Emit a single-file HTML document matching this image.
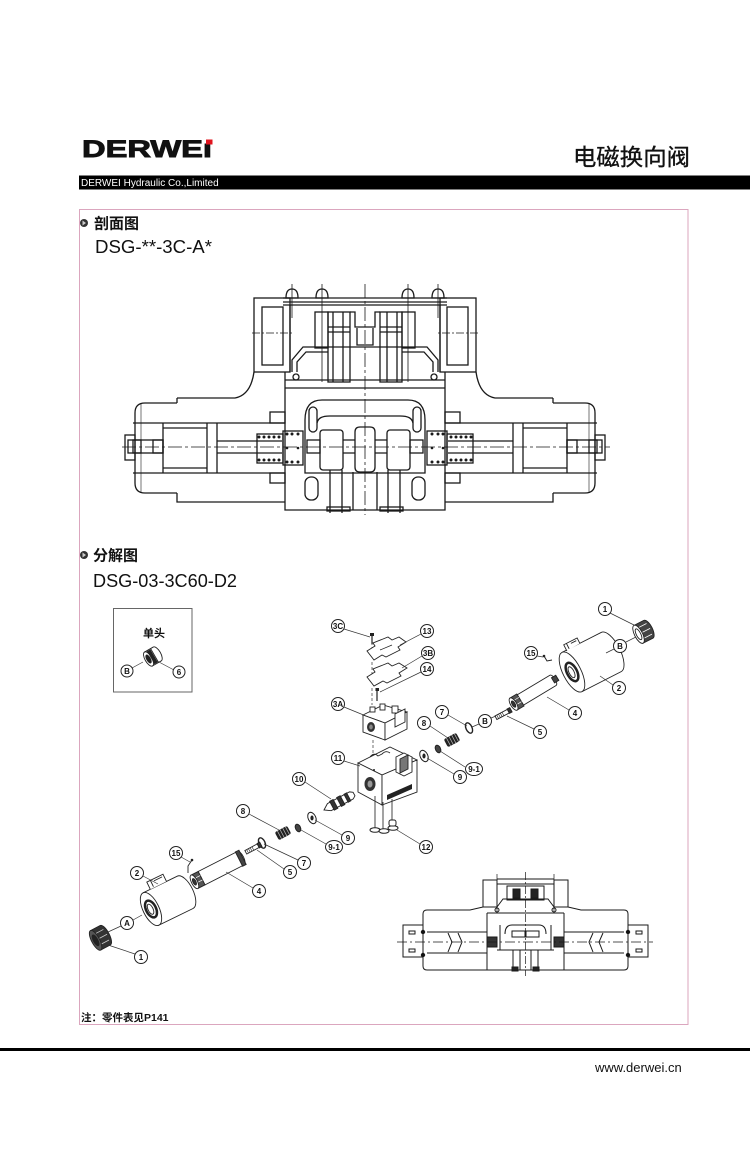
<!DOCTYPE html>
<html><head><meta charset="utf-8">
<style>
html,body{margin:0;padding:0;background:#fff;}
body{width:750px;height:1162px;overflow:hidden;position:relative;}
svg{position:absolute;left:0;top:0;}
.c circle,.c ellipse{fill:#fff;stroke:#222;stroke-width:1;}
.c text{font-family:"Liberation Sans",sans-serif;font-size:8px;font-weight:bold;text-anchor:middle;fill:#111;}
.ld{stroke:#333;stroke-width:0.7;fill:none;}
.ln{fill:none;stroke:#1a1a1a;stroke-width:1.3;}
.pt{stroke:#222;stroke-width:0.9;}
</style></head><body>
<svg width="750" height="1162" viewBox="0 0 750 1162" xmlns="http://www.w3.org/2000/svg" xmlns:xlink="http://www.w3.org/1999/xlink">
<defs>
<g id="secL" class="ln">
 <rect x="254" y="298" width="36" height="74"/>
 <rect x="262" y="307" width="21" height="58"/>
 <path d="M252,333 H292" stroke-width="0.7" stroke-dasharray="8 2 2 2"/>
 <path d="M283,298 H365 M283,302 H365 M283,305 H365"/>
 <path d="M286,298 Q286,289 292,289 Q298,289 298,298 Z"/>
 <path d="M316,298 Q316,289 322,289 Q328,289 328,298 Z"/>
 <path d="M292,284 V318 M322,284 V382" stroke-width="0.8"/>
 <path d="M290,305 V372 M285,372 V388"/>
 <rect x="315" y="312" width="13" height="36"/>
 <rect x="328" y="312" width="22" height="70"/>
 <path d="M333,312 V382 M343,312 V382 M328,327 H350 M328,332 H350"/>
 <path d="M350,312 H355 V327 H365 M357,328 V345 H365"/>
 <path d="M292,372 V360 L303,347 H365"/>
 <path d="M297,372 V362 L306,352 H328"/>
 <path d="M285,380 H365 M285,388 H365"/>
 <circle cx="296" cy="377" r="3"/>
 <path d="M254,372 C252,386 246,396 235,398 H177"/>
 <path d="M177,398 V403 M177,493 V502 H285"/>
 <path d="M177,403 H145 Q135,403 135,413 V483 Q135,493 145,493 H177"/>
 <path d="M141,403 V493"  stroke-width="0.6"/>
 <rect x="125" y="435" width="10" height="25"/>
 <path d="M133,423 H285 M133,473 H285"/>
 <path d="M163,423 V473 M207,423 V473 M217,423 V473 M163,428 H207 M163,468 H207"/>
 <path d="M217,441 H282 M217,453 H282"/>
 <rect x="128" y="440" width="35" height="13"/>
 <rect x="133" y="440" width="8" height="13"/>
 <rect x="153" y="440" width="10" height="13"/>
 <rect x="257" y="434" width="26" height="29"/>
 <rect x="283" y="431" width="20" height="34"/>
 <rect x="270" y="412" width="15" height="11"/>
 <rect x="270" y="473" width="15" height="10"/>
 <path d="M285,388 V510 H365"/>
 <path d="M305,420 V473 H365"/>
 <path d="M305,420 C305,405 312,400 322,400 H365"/>
 <path d="M317,423 C318,418 322,416 330,416 H365"/>
 <rect x="309" y="407" width="8" height="25" rx="4"/>
 <rect x="307" y="440" width="13" height="13"/>
 <rect x="320" y="430" width="23" height="40" rx="3"/>
 <path d="M343,440 H355 M343,453 H355"/>
 <path d="M365,427 H360 Q355,427 355,432 V467 Q355,472 360,472 H365"/>
 <rect x="305" y="477" width="13" height="23" rx="6"/>
 <path d="M330,470 V513 M342,470 V513 M353,472 V510"/>
 <rect x="327" y="507" width="23" height="4"/>
</g>
<g id="springDots" fill="#1a1a1a">
 <circle cx="259" cy="437" r="1.5"/><circle cx="264" cy="437" r="1.5"/><circle cx="269" cy="437" r="1.5"/><circle cx="274" cy="437" r="1.5"/><circle cx="279" cy="437" r="1.5"/>
 <circle cx="259" cy="460" r="1.5"/><circle cx="264" cy="460" r="1.5"/><circle cx="269" cy="460" r="1.5"/><circle cx="274" cy="460" r="1.5"/><circle cx="279" cy="460" r="1.5"/>
 <circle cx="287" cy="434" r="1.5"/><circle cx="292" cy="434" r="1.5"/><circle cx="298" cy="434" r="1.5"/>
 <circle cx="287" cy="462" r="1.5"/><circle cx="292" cy="462" r="1.5"/><circle cx="298" cy="462" r="1.5"/>
 <circle cx="287" cy="448" r="1.3"/><circle cx="298" cy="448" r="1.3"/>
</g>
<g id="smL" fill="none" stroke="#1a1a1a" stroke-width="1">
 <rect x="483" y="880" width="14" height="27"/>
 <path d="M497,879 H526 M497,884 H526"/>
 <path d="M526,886 H507 V900 H526"/>
 <rect x="513" y="889" width="7" height="9" fill="#222"/>
 <path d="M497,907 L503,899 H526"/>
 <path d="M497,874 V912" stroke-width="0.7"/>
 <circle cx="497" cy="910" r="2"/>
 <path d="M483,907 L470,910 H427 Q423,910 423,914 V966 Q423,970 427,970 H487"/>
 <path d="M487,913 V970 H526 M487,913 H526"/>
 <rect x="403" y="925" width="20" height="32"/>
 <rect x="409" y="931" width="6" height="3"/>
 <rect x="409" y="949" width="6" height="3"/>
 <path d="M427,932 H487 M427,953 H487"/>
 <path d="M448,933 L452,942 L448,952 M458,933 L462,942 L458,952"/>
 <rect x="487" y="937" width="10" height="10" fill="#333"/>
 <path d="M500,950 V925 M497,950 H526"/>
 <path d="M505,934 Q505,925 512,925 H526"/>
 <rect x="512" y="931" width="14" height="6"/>
 <path d="M513,950 V970 M520,950 V970"/>
 <rect x="512" y="967" width="6" height="4" fill="#222"/>
 <circle cx="423" cy="932" r="1.7" fill="#111"/>
 <circle cx="423" cy="955" r="1.7" fill="#111"/>
</g>
</defs>

<!-- HEADER -->
<text x="82" y="157" font-family="Liberation Sans, sans-serif" font-weight="bold" font-size="24" textLength="130" lengthAdjust="spacingAndGlyphs" fill="#111" stroke="#111" stroke-width="0.9">DERWEı</text>
<rect x="206" y="139.5" width="6.5" height="5" fill="#e0141e"/>
<text x="573" y="165" font-family="Liberation Sans, Noto Sans CJK SC, sans-serif" font-size="23" textLength="117" lengthAdjust="spacingAndGlyphs" fill="#111" stroke="#111" stroke-width="0.35">电磁换向阀</text>
<rect x="79" y="175.5" width="671" height="14" fill="#000"/>
<text x="81" y="186" font-family="Liberation Sans, sans-serif" font-size="10" fill="#fff">DERWEI Hydraulic Co.,Limited</text>

<!-- CONTENT BOX -->
<rect x="79.5" y="209.5" width="608.5" height="815" fill="none" stroke="#dba6be" stroke-width="1"/>

<circle cx="84" cy="223" r="4" fill="#333"/>
<path d="M82.5,220.5 L86,223 L82.5,225.5 Z" fill="#ccc"/>
<text x="94" y="228.5" font-family="Liberation Sans, Noto Sans CJK SC, sans-serif" font-weight="bold" font-size="15" fill="#111">剖面图</text>
<text x="95" y="253" font-family="Liberation Sans, sans-serif" font-size="18" textLength="117" lengthAdjust="spacingAndGlyphs" fill="#111">DSG-**-3C-A*</text>

<circle cx="84" cy="555" r="4" fill="#333"/>
<path d="M82.5,552.5 L86,555 L82.5,557.5 Z" fill="#ccc"/>
<text x="93" y="560.5" font-family="Liberation Sans, Noto Sans CJK SC, sans-serif" font-weight="bold" font-size="15" fill="#111">分解图</text>
<text x="93" y="587" font-family="Liberation Sans, sans-serif" font-size="18" textLength="144" lengthAdjust="spacingAndGlyphs" fill="#111">DSG-03-3C60-D2</text>

<!-- MAIN CROSS SECTION -->
<use xlink:href="#secL"/>
<use xlink:href="#secL" transform="translate(730,0) scale(-1,1)"/>
<use xlink:href="#springDots"/>
<use xlink:href="#springDots" transform="translate(730,0) scale(-1,1)"/>
<path d="M122,447 H610" stroke="#1a1a1a" stroke-width="0.8" stroke-dasharray="14 3 3 3" fill="none"/>
<path d="M365,284 V515" stroke="#1a1a1a" stroke-width="0.8" stroke-dasharray="14 3 3 3" fill="none"/>

<!-- INSET BOX -->
<rect x="113.5" y="608.5" width="78.5" height="83.5" fill="none" stroke="#666" stroke-width="1"/>
<text x="154" y="637" font-family="Liberation Sans, Noto Sans CJK SC, sans-serif" font-weight="bold" font-size="11" text-anchor="middle" fill="#111">单头</text>
<g transform="translate(152,657) rotate(-30)" class="pt">
 <path d="M-4,-8 H6 A3.5,8 0 0 1 6,8 H-4 Z" fill="#fff"/>
 <path d="M-1,-8 V8 M3,-8 V8" />
 <ellipse cx="-4" cy="0" rx="3.5" ry="8" fill="#fff"/>
 <ellipse cx="-4" cy="0" rx="1.8" ry="4.5" fill="#222"/>
 <path d="M-1,-7 H2 V7 H-1 Z" fill="#222"/>
</g>
<path class="ld" d="M132,668 L143,662 M174,670 L157,661"/>
<g class="c"><circle cx="127" cy="671" r="6"/><text x="127" y="674">B</text></g>
<g class="c"><circle cx="179" cy="672" r="6"/><text x="179" y="675">6</text></g>

<!-- EXPLODED VIEW PARTS -->
<g transform="translate(643,632) rotate(-27)" class="pt">
 <path d="M-5,-10 H6 A4,10 0 0 1 6,10 H-5 Z" fill="#444"/>
 <path d="M-5,-6 H7 M-5,0 H8 M-5,6 H7" stroke="#fff" stroke-width="0.8"/>
 <ellipse cx="-5" cy="0" rx="4" ry="10" fill="#fff"/>
 <ellipse cx="-5" cy="0" rx="2.2" ry="6" fill="#fff"/>
</g>
<g transform="translate(572,672) rotate(-27)" class="pt">
 <path d="M0,-22 H44 A9,22 0 0 1 44,22 H0 Z" fill="#fff"/>
 <ellipse cx="0" cy="0" rx="9" ry="22" fill="#fff"/>
 <ellipse cx="0" cy="0" rx="5" ry="10" fill="#fff" stroke-width="2.5"/>
 <ellipse cx="-0.5" cy="0" rx="2.5" ry="6" fill="#fff"/>
 <path d="M5,-21 V-28 H20 V-22" fill="#fff"/>
 <path d="M8,-28 V-22 M12,-26 H18" />
</g>
<g transform="translate(517,702) rotate(-31)" class="pt">
 <path d="M4,-6 H42 A2.5,6 0 0 1 42,6 H4 Z" fill="#fff"/>
 <rect x="42" y="-3" width="5" height="6" fill="#444"/>
 <path d="M-4,-7 H4 V7 H-4 Z" fill="#555"/>
 <path d="M-4,-3 H4 M-4,2 H4" stroke="#fff" stroke-width="0.7"/>
 <ellipse cx="-4" cy="0" rx="3" ry="7" fill="#fff"/>
 <ellipse cx="-4" cy="0" rx="1.5" ry="3.5" fill="#333"/>
</g>
<g transform="translate(503,714) rotate(-28)" class="pt">
 <rect x="-8" y="-2" width="14" height="4" fill="#fff"/>
 <path d="M-6,-2 V2 M-4,-2 V2 M-2,-2 V2 M0,-2 V2" stroke-width="0.6"/>
 <rect x="6" y="-2.5" width="3" height="5" fill="#333"/>
</g>
<ellipse cx="469" cy="728" rx="3" ry="5.5" transform="rotate(-25 469 728)" fill="none" stroke="#222" stroke-width="1.4"/>
<g transform="translate(452,740) rotate(-28)">
 <rect x="-7" y="-4.5" width="14" height="9" rx="2" fill="#222"/>
 <path d="M-4,-4.5 V4.5 M-1,-4.5 V4.5 M2,-4.5 V4.5 M5,-4.5 V4.5" stroke="#bbb" stroke-width="0.7"/>
</g>
<ellipse cx="438" cy="749" rx="2.5" ry="4" transform="rotate(-25 438 749)" fill="#444" stroke="#222"/>
<ellipse cx="424" cy="756" rx="3.8" ry="6" transform="rotate(-25 424 756)" fill="#fff" stroke="#222"/>
<ellipse cx="424" cy="756" rx="1.6" ry="2.5" fill="#222"/>
<path d="M544,656 L547,661 L552,660" fill="none" stroke="#222" stroke-width="1"/>
<circle cx="544" cy="656" r="1.3" fill="#222"/>

<path d="M372,637 V650 M372,662 V676 M372,688 V705" stroke="#333" stroke-width="0.7" stroke-dasharray="3 2" fill="none"/>
<rect x="370" y="633" width="4" height="3" fill="#222"/>
<path d="M372,636 V644" stroke="#222" stroke-width="1.2"/>
<path d="M367,651 L375,646 L373,643 L388,637 L392,640 L399,637 L406,642 L398,647 L400,650 L386,657 L382,655 L374,660 Z" fill="#fff" stroke="#222" stroke-width="0.9"/>
<path d="M380,650 L392,645" stroke="#222" stroke-width="0.7"/>
<path d="M367,677 L375,672 L373,669 L388,663 L392,666 L399,663 L407,668 L399,673 L401,676 L387,683 L383,681 L374,686 Z" fill="#fff" stroke="#222" stroke-width="0.9"/>
<rect x="375.5" y="688" width="3.5" height="3" fill="#222"/>
<path d="M377,691 V701" stroke="#222" stroke-width="1.2"/>
<g class="pt" fill="#fff">
 <path d="M363,715 L383,705 L407,712 L385,723 Z"/>
 <path d="M363,715 L385,723 L385,740 L363,732 Z"/>
 <path d="M385,723 L407,712 L407,729 L385,740 Z"/>
 <rect x="370" y="707" width="5" height="5"/>
 <rect x="380" y="704" width="5" height="6"/>
 <rect x="392" y="706" width="6" height="7"/>
 <path d="M395,714 L405,709 L405,722 L395,727 Z"/>
</g>
<ellipse cx="371" cy="727" rx="4" ry="5" fill="#333"/>
<ellipse cx="371" cy="727" rx="1.8" ry="2.5" fill="#888"/>
<path d="M373,740 V760" stroke="#333" stroke-width="0.7" stroke-dasharray="3 2"/>
<g class="pt" fill="#fff">
 <path d="M358,763 L390,747 L417,760 L382,775 Z"/>
 <path d="M358,763 L382,775 L382,805 L358,792 Z"/>
 <path d="M382,775 L417,760 L417,792 L382,805 Z"/>
 <path d="M370,757 Q374,752 378,756 L382,754 Q386,750 390,753" fill="none"/>
 <path d="M396,757 L404,753 L412,757 L412,772 L404,776 L396,772 Z"/>
 <path d="M400,759 L408,755 L408,769 L400,773 Z" fill="#777"/>
</g>
<path d="M387,795 L412,784 L412,789 L387,800 Z" fill="#222"/>
<ellipse cx="370" cy="784" rx="5.5" ry="7" fill="#333"/>
<ellipse cx="370" cy="784" rx="2.5" ry="3.5" fill="#999"/>
<circle cx="374" cy="770" r="1" fill="#222"/>
<path d="M375,796 V828 M383,802 V830 M392,799 V826" stroke="#333" stroke-width="0.9" fill="none"/>
<ellipse cx="375" cy="830" rx="5" ry="2.3" fill="#fff" stroke="#222"/>
<ellipse cx="384" cy="831" rx="5" ry="2.3" fill="#fff" stroke="#222"/>
<ellipse cx="393" cy="828" rx="5" ry="2.3" fill="#fff" stroke="#222"/>
<rect x="389" y="820" width="7" height="6" rx="2" fill="#fff" stroke="#222"/>
<g transform="translate(339,802) rotate(-28)" class="pt">
 <path d="M-17,0 L-11,-4 H14 L17,-2 V2 L14,4 H-11 Z" fill="#fff"/>
 <rect x="-8" y="-5" width="4" height="10" fill="#333"/>
 <rect x="0" y="-5" width="4" height="10" fill="#333"/>
 <rect x="8" y="-4.5" width="3" height="9" fill="#333"/>
</g>
<ellipse cx="312" cy="818" rx="3.8" ry="6" transform="rotate(-25 312 818)" fill="#fff" stroke="#222"/>
<ellipse cx="312" cy="818" rx="1.6" ry="2.5" fill="#222"/>
<ellipse cx="298" cy="828" rx="2.5" ry="4" transform="rotate(-25 298 828)" fill="#444" stroke="#222"/>
<g transform="translate(283,833) rotate(-28)">
 <rect x="-7" y="-4.5" width="14" height="9" rx="2" fill="#222"/>
 <path d="M-4,-4.5 V4.5 M-1,-4.5 V4.5 M2,-4.5 V4.5 M5,-4.5 V4.5" stroke="#bbb" stroke-width="0.7"/>
</g>
<ellipse cx="262" cy="843" rx="3" ry="5.5" transform="rotate(-25 262 843)" fill="none" stroke="#222" stroke-width="1.4"/>
<g transform="translate(252,849) rotate(-28)" class="pt">
 <rect x="-7" y="-2" width="14" height="4" fill="#fff"/>
 <path d="M-5,-2 V2 M-3,-2 V2 M-1,-2 V2 M1,-2 V2" stroke-width="0.6"/>
 <rect x="7" y="-2.5" width="3" height="5" fill="#333"/>
</g>
<g transform="translate(198,880) rotate(-27)" class="pt">
 <path d="M4,-7.5 H48 A3,7.5 0 0 1 48,7.5 H4 Z" fill="#fff"/>
 <rect x="46" y="-8" width="4" height="16" fill="#444"/>
 <path d="M-4,-7.5 H4 V7.5 H-4 Z" fill="#555"/>
 <path d="M-4,-3 H4 M-4,2 H4" stroke="#fff" stroke-width="0.7"/>
 <ellipse cx="-4" cy="0" rx="3" ry="7.5" fill="#fff"/>
 <ellipse cx="-4" cy="0" rx="1.5" ry="3.5" fill="#333"/>
</g>
<g transform="translate(151,909) rotate(-26)" class="pt">
 <path d="M0,-18 H38 A8,18 0 0 1 38,18 H0 Z" fill="#fff"/>
 <ellipse cx="0" cy="0" rx="8" ry="18" fill="#fff"/>
 <ellipse cx="0" cy="0" rx="5" ry="9" fill="#fff" stroke-width="2.5"/>
 <ellipse cx="-0.5" cy="0" rx="2.5" ry="5.5" fill="#fff"/>
 <path d="M8,-18 V-26 H26 V-18" fill="#fff"/>
 <path d="M12,-26 V-19 M15,-24 H24" />
</g>
<path d="M192,860 L188,866 L188,873" fill="none" stroke="#222" stroke-width="0.9"/>
<circle cx="192" cy="860" r="1.3" fill="#222"/>
<g transform="translate(100,938) rotate(-28)" class="pt">
 <path d="M-5,-11 H6 A4,11 0 0 1 6,11 H-5 Z" fill="#333"/>
 <path d="M-5,-6 H7 M-5,0 H8 M-5,6 H7" stroke="#ccc" stroke-width="0.8"/>
 <ellipse cx="-5" cy="0" rx="4" ry="11" fill="#555"/>
 <ellipse cx="-5" cy="0" rx="2.2" ry="6" fill="#222"/>
</g>

<path class="ld" d="M610,613 L634,625 M626,642 L636,637 M614,649 L606,653 M613,685 L600,676 M537,656 L543,657 M569,710 L547,697 M534,729 L507,716 M479,724 L472,727 M491,718 L496,716 M448,715 L467,726 M430,726 L448,738 M465,767 L440,751 M454,774 L427,758 M344,629 L370,637 M421,634 L400,645 M422,656 L402,668 M421,672 L380,692 M344,707 L366,716 M344,761 L360,766 M305,782 L331,799 M342,835 L315,820 M326,844 L301,830 M420,844 L397,830 M249,814 L279,830 M298,860 L264,844 M284,869 L257,850 M253,888 L226,872 M181,857 L190,862 M143,876 L158,884 M121,926 L108,932 M133,920 L142,915 M135,954 L105,944"/>

<g class="c"><circle cx="605" cy="609" r="6.5"/><text x="605" y="612">1</text></g>
<g class="c"><circle cx="620" cy="646" r="6.5"/><text x="620" y="649">B</text></g>
<g class="c"><circle cx="619" cy="688" r="6.5"/><text x="619" y="691">2</text></g>
<g class="c"><circle cx="531" cy="653" r="6.5"/><text x="531" y="656" font-size="7">15</text></g>
<g class="c"><circle cx="575" cy="713" r="6.5"/><text x="575" y="716">4</text></g>
<g class="c"><circle cx="540" cy="732" r="6.5"/><text x="540" y="735">5</text></g>
<g class="c"><circle cx="485" cy="721" r="6.5"/><text x="485" y="724">B</text></g>
<g class="c"><circle cx="442" cy="712" r="6.5"/><text x="442" y="715">7</text></g>
<g class="c"><circle cx="424" cy="723" r="6.5"/><text x="424" y="726">8</text></g>
<g class="c"><ellipse cx="474" cy="769" rx="8.5" ry="6.5"/><text x="474" y="772" font-size="7">9-1</text></g>
<g class="c"><circle cx="460" cy="777" r="6.5"/><text x="460" y="780">9</text></g>
<g class="c"><circle cx="338" cy="626" r="6.5"/><text x="338" y="629" font-size="7">3C</text></g>
<g class="c"><circle cx="427" cy="631" r="6.5"/><text x="427" y="634" font-size="7">13</text></g>
<g class="c"><circle cx="428" cy="653" r="6.5"/><text x="428" y="656" font-size="7">3B</text></g>
<g class="c"><circle cx="427" cy="669" r="6.5"/><text x="427" y="672" font-size="7">14</text></g>
<g class="c"><circle cx="338" cy="704" r="6.5"/><text x="338" y="707" font-size="7">3A</text></g>
<g class="c"><circle cx="338" cy="758" r="6.5"/><text x="338" y="761" font-size="7">11</text></g>
<g class="c"><circle cx="299" cy="779" r="6.5"/><text x="299" y="782" font-size="7">10</text></g>
<g class="c"><circle cx="348" cy="838" r="6.5"/><text x="348" y="841">9</text></g>
<g class="c"><ellipse cx="334" cy="847" rx="8.5" ry="6.5"/><text x="334" y="850" font-size="7">9-1</text></g>
<g class="c"><circle cx="426" cy="847" r="6.5"/><text x="426" y="850" font-size="7">12</text></g>
<g class="c"><circle cx="243" cy="811" r="6.5"/><text x="243" y="814">8</text></g>
<g class="c"><circle cx="304" cy="863" r="6.5"/><text x="304" y="866">7</text></g>
<g class="c"><circle cx="290" cy="872" r="6.5"/><text x="290" y="875">5</text></g>
<g class="c"><circle cx="259" cy="891" r="6.5"/><text x="259" y="894">4</text></g>
<g class="c"><circle cx="176" cy="853" r="6.5"/><text x="176" y="856" font-size="7">15</text></g>
<g class="c"><circle cx="137" cy="873" r="6.5"/><text x="137" y="876">2</text></g>
<g class="c"><circle cx="127" cy="923" r="6.5"/><text x="127" y="926">A</text></g>
<g class="c"><circle cx="141" cy="957" r="6.5"/><text x="141" y="960">1</text></g>

<use xlink:href="#smL"/>
<use xlink:href="#smL" transform="translate(1051,0) scale(-1,1)"/>
<path d="M397,942 H653" stroke="#1a1a1a" stroke-width="0.7" stroke-dasharray="10 3 2 3" fill="none"/>
<path d="M525.5,872 V976" stroke="#1a1a1a" stroke-width="0.7" stroke-dasharray="8 2 2 2" fill="none"/>

<text x="81" y="1021" font-family="Liberation Sans, Noto Sans CJK SC, sans-serif" font-weight="bold" font-size="10.5" fill="#111">注：零件表见P141</text>

<rect x="0" y="1048" width="750" height="3" fill="#000"/>
<text x="595" y="1072" font-family="Liberation Sans, sans-serif" font-size="13" fill="#111">www.derwei.cn</text>
</svg>
</body></html>
